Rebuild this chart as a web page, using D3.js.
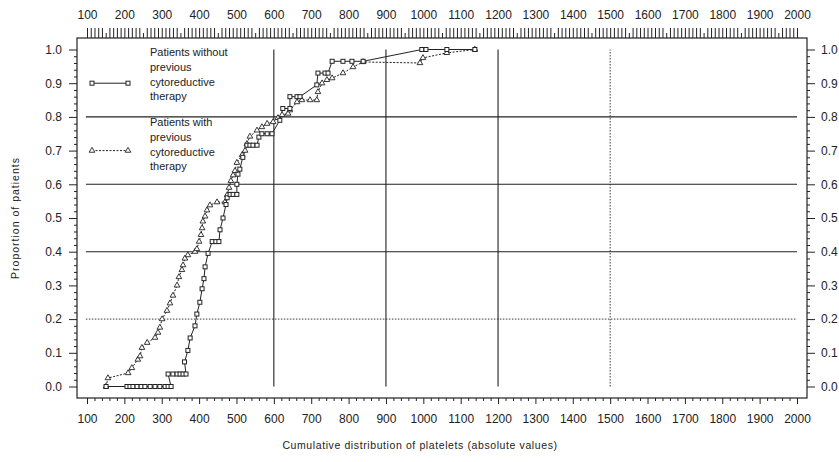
<!DOCTYPE html>
<html>
<head>
<meta charset="utf-8">
<script src="https://cdn.jsdelivr.net/npm/d3@7"></script>
<style>
  body { margin: 0; background: #fff; }
  svg { display: block; font-family: "Liberation Sans", Arial, sans-serif; }
  .axis path.domain { display: none; }
  .axis line { stroke: #222; }
  .axis text { fill: #222; font-size: 11.5px; }
</style>
</head>
<body>
<div id="chart"></div>
<script>
// platelet value / cumulative proportion
const withoutPlatelets = [151, 207, 215, 223, 234, 245, 255, 269, 282, 295, 309, 317, 325,
  317, 330, 341, 349, 357, 365, 361, 370, 376, 389, 394, 402,
  408, 413, 416, 424, 435, 445, 453, 456, 464, 472, 475, 483, 491, 501,
  501, 504, 509, 517, 528, 536, 544, 555, 560, 568, 582, 595,
  616, 624, 643, 643, 662, 670, 715, 718, 737, 745, 756, 785, 809, 839,
  996, 1007, 1063, 1138];
const withoutProportion = [0, 0, 0, 0, 0, 0, 0, 0, 0, 0, 0, 0, 0,
  0.037, 0.037, 0.037, 0.037, 0.037, 0.037, 0.073, 0.107, 0.144, 0.18, 0.215, 0.25,
  0.29, 0.32, 0.355, 0.395, 0.43, 0.43, 0.43, 0.465, 0.50, 0.54, 0.56, 0.57, 0.57, 0.57,
  0.60, 0.63, 0.645, 0.68, 0.716, 0.716, 0.716, 0.716, 0.74, 0.75, 0.75, 0.75,
  0.79, 0.825, 0.825, 0.86, 0.86, 0.86, 0.895, 0.93, 0.93, 0.93, 0.965, 0.965, 0.965, 0.965,
  1.0, 1.0, 1.0, 1.0];

const withPlatelets = [151, 156, 210, 220, 236, 242, 247, 261, 282, 290, 295, 301, 314,
  322, 330, 341, 346, 354, 357, 362, 370, 389, 394, 400, 405, 408, 410, 416, 421, 429,
  448, 469, 475, 480, 485, 491, 496, 501, 515, 523, 528, 536, 555, 568, 582, 598,
  611, 622, 638, 643, 662, 675, 697, 715, 718, 729, 742, 756, 785, 812, 839,
  991, 999, 1063, 1138];
const withProportion = [0, 0.025, 0.04, 0.055, 0.08, 0.09, 0.115, 0.13, 0.145, 0.16, 0.175, 0.2, 0.225,
  0.247, 0.27, 0.30, 0.325, 0.346, 0.36, 0.38, 0.39, 0.40, 0.408, 0.43, 0.45, 0.47, 0.49, 0.505, 0.523, 0.538,
  0.547, 0.547, 0.568, 0.59, 0.61, 0.627, 0.64, 0.664, 0.687, 0.70, 0.72, 0.742, 0.76, 0.77, 0.78, 0.785,
  0.797, 0.806, 0.81, 0.82, 0.844, 0.85, 0.85, 0.85, 0.874, 0.90, 0.91, 0.915, 0.93, 0.948, 0.963,
  0.96, 0.975, 0.99, 1.0];

const xTickValues = d3.range(100, 2001, 100);
const yTickValues = d3.range(0, 11).map(i => i / 10);
const refLinesY = [0.2, 0.4, 0.6, 0.8];
const refLinesX = [600, 900, 1200, 1500];
const legendLabels = [
  ['Patients without', 'previous', 'cytoreductive', 'therapy'],
  ['Patients with', 'previous', 'cytoreductive', 'therapy']
];

const width = 839, height = 462;
const box = { left: 77, right: 807, top: 38, bottom: 398 };
const ink = '#222';
const dotted = new Set([0.2, 1500]);

const svg = d3.select('#chart').append('svg')
  .attr('width', width)
  .attr('height', height);

const x = d3.scaleLinear().domain([100, 2000]).range([87, 797]);
const y = d3.scaleLinear().domain([0, 1]).range([386.5, 49.5]);

// frame
svg.append('rect')
  .attr('x', box.left).attr('y', box.top)
  .attr('width', box.right - box.left).attr('height', box.bottom - box.top)
  .attr('fill', 'none').attr('stroke', ink).attr('stroke-width', 1.2);

// reference lines
svg.selectAll('line.href')
  .data(refLinesY)
  .enter().append('line')
  .attr('class', 'href')
  .attr('x1', x(97)).attr('x2', x(2000))
  .attr('y1', d => y(d)).attr('y2', d => y(d))
  .attr('stroke', ink)
  .attr('stroke-width', d => dotted.has(d) ? 0.9 : 1.1)
  .attr('stroke-dasharray', d => dotted.has(d) ? '1.5,1.5' : null);

svg.selectAll('line.vref')
  .data(refLinesX)
  .enter().append('line')
  .attr('class', 'vref')
  .attr('x1', d => x(d)).attr('x2', d => x(d))
  .attr('y1', y(0)).attr('y2', y(1))
  .attr('stroke', ink)
  .attr('stroke-width', d => dotted.has(d) ? 0.9 : 1.1)
  .attr('stroke-dasharray', d => dotted.has(d) ? '1.5,1.5' : null);

// bottom axis
svg.append('g').attr('class', 'axis')
  .attr('transform', `translate(0,${box.bottom})`)
  .call(d3.axisBottom(x).tickValues(d3.range(100, 2001, 20).filter(v => v % 100)).tickSize(3).tickFormat(''));
svg.append('g').attr('class', 'axis')
  .attr('transform', `translate(0,${box.bottom})`)
  .call(d3.axisBottom(x).tickValues(xTickValues).tickSize(6).tickPadding(10).tickFormat(d3.format('d')))
  .selectAll('text').style('font-size', '12px');

// top axis
svg.append('g').attr('class', 'axis')
  .attr('transform', `translate(0,${box.top})`)
  .call(d3.axisTop(x).tickValues(d3.range(100, 2001, 10)).tickSize(10).tickFormat(''))
  .selectAll('.tick line')
  .attr('y2', d => (d % 50 === 0 && d % 100 !== 0) ? -5 : -10);
svg.append('g').attr('class', 'axis')
  .attr('transform', `translate(0,${box.top})`)
  .call(d3.axisTop(x).tickValues(xTickValues).tickSize(0).tickPadding(19).tickFormat(d3.format('d')))
  .selectAll('text').style('font-size', '12px');

// left axis
const yMinor = d3.range(0, 51).map(i => i / 50).filter(v => Math.round(v * 50) % 5);
svg.append('g').attr('class', 'axis')
  .attr('transform', `translate(${box.left},0)`)
  .call(d3.axisLeft(y).tickValues(yMinor).tickSize(3).tickFormat(''));
svg.append('g').attr('class', 'axis')
  .attr('transform', `translate(${box.left},0)`)
  .call(d3.axisLeft(y).tickValues(yTickValues).tickSize(8).tickPadding(7).tickFormat(d3.format('.1f')))
  .selectAll('text').style('font-size', '12px');

// right axis
svg.append('g').attr('class', 'axis')
  .attr('transform', `translate(${box.right},0)`)
  .call(d3.axisRight(y).tickValues(yMinor).tickSize(3).tickFormat(''));
svg.append('g').attr('class', 'axis')
  .attr('transform', `translate(${box.right},0)`)
  .call(d3.axisRight(y).tickValues(yTickValues).tickSize(8).tickPadding(6).tickFormat(d3.format('.1f')))
  .selectAll('text').style('font-size', '12px');

// axis titles
svg.append('text')
  .attr('x', 420).attr('y', 449)
  .attr('text-anchor', 'middle')
  .style('font-size', '10.5px')
  .style('letter-spacing', '0.6px')
  .attr('fill', ink)
  .text('Cumulative distribution of platelets (absolute values)');

svg.append('text')
  .attr('transform', 'translate(19,218) rotate(-90)')
  .attr('text-anchor', 'middle')
  .style('font-size', '10.5px')
  .style('letter-spacing', '1px')
  .attr('fill', ink)
  .text('Proportion of patients');

// series
const seriesA = withoutPlatelets.map((v, i) => ({ v, p: withoutProportion[i] }));
const seriesB = withPlatelets.map((v, i) => ({ v, p: withProportion[i] }));

const line = d3.line().x(d => x(d.v)).y(d => y(d.p));

svg.append('path')
  .datum(seriesB)
  .attr('fill', 'none')
  .attr('stroke', ink)
  .attr('stroke-width', 1)
  .attr('stroke-dasharray', '2,1.5')
  .attr('d', line);

svg.append('path')
  .datum(seriesA)
  .attr('fill', 'none')
  .attr('stroke', ink)
  .attr('stroke-width', 1)
  .attr('d', line);

const tri = d3.symbol().type(d3.symbolTriangle).size(14);

svg.selectAll('path.tri')
  .data(seriesB)
  .enter().append('path')
  .attr('class', 'tri')
  .attr('transform', d => `translate(${x(d.v)},${y(d.p)})`)
  .attr('d', tri)
  .attr('fill', '#fff')
  .attr('stroke', ink)
  .attr('stroke-width', 0.9);

svg.selectAll('rect.sq')
  .data(seriesA)
  .enter().append('rect')
  .attr('class', 'sq')
  .attr('x', d => x(d.v) - 2).attr('y', d => y(d.p) - 2)
  .attr('width', 4).attr('height', 4)
  .attr('fill', '#fff')
  .attr('stroke', ink)
  .attr('stroke-width', 1);

// legend
const legendRows = [
  { lineY: y(0.9), textY: 52, dash: null, marker: 'sq' },
  { lineY: y(0.7), textY: 122, dash: '2,1.5', marker: 'tri' }
];

legendRows.forEach((row, k) => {
  const g = svg.append('g');
  g.append('line')
    .attr('x1', 92).attr('x2', 128)
    .attr('y1', row.lineY).attr('y2', row.lineY)
    .attr('stroke', ink)
    .attr('stroke-dasharray', row.dash);
  [92, 128].forEach(mx => {
    if (row.marker === 'sq') {
      g.append('rect')
        .attr('x', mx - 2).attr('y', row.lineY - 2)
        .attr('width', 4).attr('height', 4)
        .attr('fill', '#fff').attr('stroke', ink);
    } else {
      g.append('path')
        .attr('transform', `translate(${mx},${row.lineY})`)
        .attr('d', tri)
        .attr('fill', '#fff').attr('stroke', ink).attr('stroke-width', 0.9);
    }
  });
  g.selectAll('text')
    .data(legendLabels[k])
    .enter().append('text')
    .attr('x', 150)
    .attr('y', (d, i) => row.textY + 4 + i * 14.8)
    .style('font-size', '11px')
    .attr('fill', ink)
    .text(d => d);
});
</script>
</body>
</html>
